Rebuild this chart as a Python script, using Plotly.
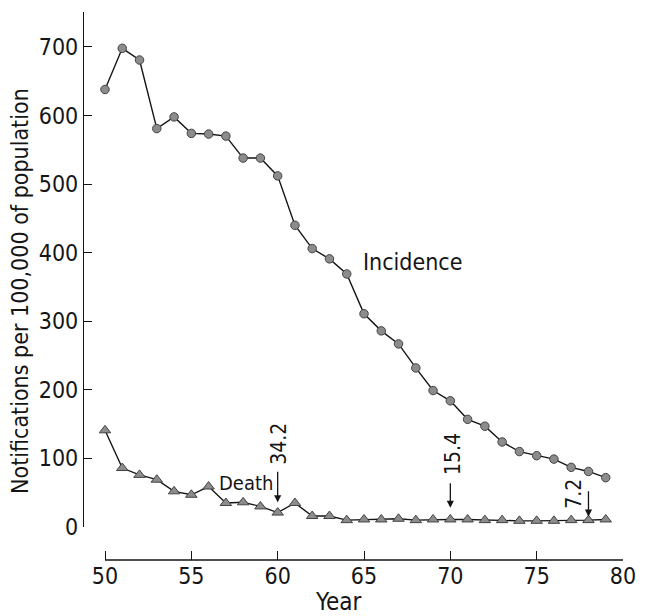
import plotly.graph_objects as go

years = [1950, 1951, 1952, 1953, 1954, 1955, 1956, 1957, 1958, 1959,
         1960, 1961, 1962, 1963, 1964, 1965, 1966, 1967, 1968, 1969,
         1970, 1971, 1972, 1973, 1974, 1975, 1976, 1977, 1978, 1979]
year_axis = [y - 1900 for y in years]

incidence = [638, 698, 681, 581, 598, 574, 573, 570, 538, 538,
             512, 440, 406, 391, 369, 311, 286, 267, 232, 199,
             184, 157, 147, 124, 110, 104, 99, 87, 81, 72]

death = [141, 86, 76, 69, 52, 47, 59, 35, 36, 30,
         21, 35, 16, 16, 10, 11, 11, 12, 10, 11,
         11, 11, 10, 10, 9, 9, 9, 10, 10, 11]

x_ticks = [50, 55, 60, 65, 70, 75, 80]
y_ticks = [0, 100, 200, 300, 400, 500, 600, 700]

# ratio callouts: (year, label, arrow tip value)
callouts = [(60, "34.2", 36), (70, "15.4", 28), (78, "7.2", 15)]

FONT = "DejaVu Sans Condensed"
INK = "#151515"
MARK = "#8c8c8c"

W, H = 647, 616
L, R, T, B = 84, W - 623, 12, H - 560
PW, PH = W - L - R, H - T - B

fig = go.Figure()
fig.add_trace(go.Scatter(
    x=year_axis, y=incidence, mode="lines+markers", name="Incidence",
    line=dict(color=INK, width=1.4),
    marker=dict(symbol="circle", size=8.5, color=MARK, line=dict(color="#444", width=1)),
    cliponaxis=False,
))
fig.add_trace(go.Scatter(
    x=year_axis, y=death, mode="lines+markers", name="Death",
    line=dict(color=INK, width=1.4),
    marker=dict(symbol="triangle-up", size=10, color=MARK, line=dict(color="#444", width=1)),
    cliponaxis=False,
))

annotations = [
    dict(x=67.8, y=386, xref="x", yref="y", text="Incidence", showarrow=False,
         xanchor="center", yanchor="middle",
         font=dict(family=FONT, size=23, color=INK)),
    dict(x=58.15, y=64, xref="x", yref="y", text="Death", showarrow=False,
         xanchor="center", yanchor="middle",
         font=dict(family=FONT, size=20, color=INK)),
    dict(x=(338.5 - L) / PW, y=(560 - 602) / PH, xref="paper", yref="paper",
         text="Year", showarrow=False, xanchor="center", yanchor="middle",
         font=dict(family=FONT, size=24, color=INK)),
    dict(x=(20 - L) / PW, y=(560 - 291) / PH, xref="paper", yref="paper",
         text="Notifications per 100,000 of population", textangle=-90,
         showarrow=False, xanchor="center", yanchor="middle",
         font=dict(family=FONT, size=23, color=INK)),
]
label_pos = {"34.2": (60.1, 122), "15.4": (70.2, 106), "7.2": (77.15, 48)}
arrow_len = {"34.2": 32, "15.4": 26, "7.2": 27}
for yr, lab, tip in callouts:
    lx, ly = label_pos[lab]
    annotations.append(dict(x=lx, y=ly, xref="x", yref="y", text=lab, textangle=-90,
                            showarrow=False, xanchor="center", yanchor="middle",
                            font=dict(family=FONT, size=21, color=INK)))
    annotations.append(dict(x=yr, y=tip, xref="x", yref="y", text="", showarrow=True,
                            ax=0, ay=-arrow_len[lab], arrowhead=2, arrowsize=1.1,
                            arrowwidth=1.3, arrowcolor=INK))

fig.update_layout(
    width=W, height=H,
    margin=dict(l=L, r=R, t=T, b=B, autoexpand=False),
    paper_bgcolor="white", plot_bgcolor="white",
    showlegend=False,
    hovermode=False,
    annotations=annotations,
    shapes=[dict(type="line", xref="x", yref="paper", x0=50, x1=80, y0=0, y1=0,
                 line=dict(color=INK, width=1.3))],
    xaxis=dict(range=[50 - 21 / 17.267, 80], anchor="free", position=0,
               showline=False, showgrid=False, zeroline=False,
               tickmode="array", tickvals=x_ticks, ticktext=[str(t) for t in x_ticks],
               ticks="inside", ticklen=9, tickwidth=1.3, tickcolor=INK,
               tickfont=dict(family=FONT, size=23, color=INK)),
    yaxis=dict(range=[0, 751], domain=[(560 - 527) / PH, 1],
               showline=True, linecolor=INK, linewidth=1.3,
               showgrid=False, zeroline=False,
               tickmode="array", tickvals=y_ticks, ticktext=[str(t) for t in y_ticks],
               ticks="inside", ticklen=8, tickwidth=1.3, tickcolor=INK,
               tickfont=dict(family=FONT, size=23, color=INK)),
)

fig.write_html(
    "out.html",
    config={"displayModeBar": False},
    post_script="document.body.style.margin='0';document.body.style.overflow='hidden';",
)
